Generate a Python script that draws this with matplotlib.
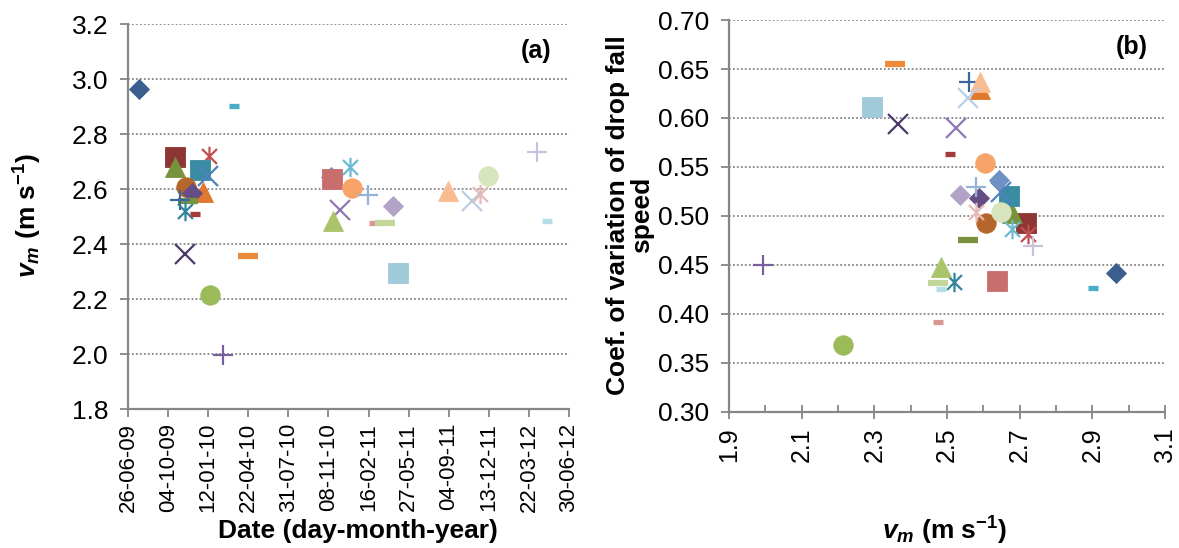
import matplotlib.pyplot as plt
import matplotlib.dates as mdates
from matplotlib.path import Path
from matplotlib.ticker import MultipleLocator, FormatStrFormatter, FixedLocator
from datetime import datetime, timedelta

plt.rcParams['font.family'] = ['Liberation Sans', 'DejaVu Sans']
plt.rcParams['mathtext.fontset'] = 'custom'
plt.rcParams['mathtext.rm'] = 'Liberation Sans'
plt.rcParams['mathtext.it'] = 'Liberation Sans:italic'
plt.rcParams['mathtext.bf'] = 'Liberation Sans:bold'
plt.rcParams['mathtext.bfit'] = 'Liberation Sans:bold:italic'

# one entry per rain event (series)
dates = ['2009-07-23', '2010-03-17', '2009-10-21', '2010-01-14', '2009-10-21',
         '2009-12-23', '2010-01-12', '2009-11-18', '2009-12-30', '2009-12-03',
         '2009-11-23', '2009-11-03', '2009-11-15', '2009-12-10', '2009-11-15',
         '2010-04-21', '2010-01-16', '2010-02-18', '2010-11-14', '2010-11-16',
         '2010-12-31', '2011-01-06', '2011-02-14', '2010-12-08', '2010-11-20',
         '2011-04-19', '2011-03-02', '2011-03-29', '2011-04-30', '2011-09-01',
         '2011-10-31', '2011-11-20', '2011-12-10', '2012-04-12', '2012-05-05']
vm = [2.965, 2.903, 2.717, 2.722, 2.679, 2.670, 2.648, 2.607, 2.590, 2.587,
      2.558, 2.560, 2.519, 2.508, 2.364, 2.358, 2.215, 1.995, 2.644, 2.637,
      2.680, 2.604, 2.579, 2.524, 2.484, 2.537, 2.475, 2.475, 2.293, 2.592,
      2.557, 2.581, 2.648, 2.736, 2.484]
cv = [0.442, 0.427, 0.493, 0.482, 0.503, 0.520, 0.524, 0.493, 0.630, 0.518,
      0.476, 0.637, 0.433, 0.563, 0.594, 0.655, 0.368, 0.450, 0.537, 0.434,
      0.487, 0.554, 0.530, 0.590, 0.448, 0.521, 0.392, 0.432, 0.611, 0.637,
      0.620, 0.504, 0.504, 0.469, 0.425]
vm_ticks = [1.9, 2.1, 2.3, 2.5, 2.7, 2.9, 3.1]

# excel-like star: an X with a vertical bar
star = Path([(-1, -1), (1, 1), (-1, 1), (1, -1), (0, -1.3), (0, 1.3)],
            [Path.MOVETO, Path.LINETO, Path.MOVETO, Path.LINETO, Path.MOVETO, Path.LINETO])

# marker, colour, size per series
styles = [('D', '#3A5F8F', 10), ('_', '#4BACC6', 7), ('s', '#8E3634', 14), ('*', '#C0504D', 14),
          ('^', '#77933C', 14), ('s', '#3A8CA3', 14), ('x', '#4F81BD', 14), ('o', '#B5662A', 14),
          ('^', '#E1782F', 14), ('D', '#654D85', 10), ('_', '#77933C', 14), ('+', '#3B67A0', 14),
          ('*', '#31859C', 14), ('_', '#A33B3A', 7), ('x', '#4B3A67', 14), ('_', '#EC8A3C', 14),
          ('o', '#9BBB59', 14), ('+', '#7A5EA0', 14), ('D', '#6E90C4', 10), ('s', '#C86E6C', 14),
          ('*', '#6CBAD2', 14), ('o', '#F8A468', 14), ('+', '#95B3D7', 14), ('x', '#9079B3', 14),
          ('^', '#A9C46A', 14), ('D', '#B3A2C7', 10), ('_', '#D99694', 7), ('_', '#C3D69B', 14),
          ('s', '#A0C9DA', 14), ('^', '#F9BB90', 14), ('x', '#B9CDE5', 14), ('*', '#E6B9B8', 14),
          ('o', '#D7E4BD', 14), ('+', '#CCC1DA', 14), ('_', '#B7DEE8', 7)]

grey = '#868686'
fig = plt.figure(figsize=(11.79, 5.48), dpi=100)
ax1 = fig.add_axes([0.1086, 0.2536, 0.374, 0.7024])
ax2 = fig.add_axes([0.6183, 0.2482, 0.3698, 0.7153])

def draw(ax, xs, ys):
    for x, y, (m, c, s) in zip(xs, ys, styles):
        if m == '_':
            ax.plot([x], [y], marker='_', ms=s, mew=4.5 if s > 10 else 3.8, color=c,
                    linestyle='none', clip_on=False)
        elif m in ('x', '+', '*'):
            ax.plot([x], [y], marker=star if m == '*' else m, ms=s, mew=1.6, color=c,
                    linestyle='none', clip_on=False)
        else:
            ax.plot([x], [y], marker=m, ms=s, mfc=c, mec=c, mew=0.6, linestyle='none',
                    clip_on=False)

def style_axes(ax):
    for side in ('top', 'right'):
        ax.spines[side].set_visible(False)
    for side in ('left', 'bottom'):
        ax.spines[side].set_color(grey)
        ax.spines[side].set_linewidth(1.6)
    ax.grid(axis='y', color=grey, linestyle=(0, (1, 1.2)), linewidth=1.3)
    ax.set_axisbelow(True)
    ax.tick_params(colors=grey, labelcolor='black', width=1.3, length=6)

# (a) vm over time
d = [datetime.strptime(s, '%Y-%m-%d') for s in dates]
draw(ax1, d, vm)
start = datetime(2009, 6, 26)
ticks = [start + timedelta(days=100 * k) for k in range(12)]
ax1.set_xticks(ticks)
ax1.xaxis.set_major_formatter(mdates.DateFormatter('%d-%m-%y'))
ax1.set_xlim(ticks[0], ticks[-1])
ax1.set_ylim(1.8, 3.2)
ax1.yaxis.set_major_locator(MultipleLocator(0.2))
ax1.yaxis.set_major_formatter(FormatStrFormatter('%.1f'))
style_axes(ax1)
ax1.tick_params(axis='y', labelsize=19, pad=8)
ax1.tick_params(axis='x', labelsize=16, rotation=90, pad=4)
ax1.text(0.96, 0.93, '(a)', transform=ax1.transAxes, fontsize=18, fontweight='bold',
         ha='right', va='center')

# (b) coefficient of variation vs vm
draw(ax2, vm, cv)
ax2.set_xlim(1.9, 3.1)
ax2.set_ylim(0.30, 0.70)
ax2.xaxis.set_major_locator(FixedLocator(vm_ticks))
ax2.xaxis.set_minor_locator(FixedLocator([t + 0.1 for t in vm_ticks[:-1]]))
ax2.xaxis.set_major_formatter(FormatStrFormatter('%.1f'))
ax2.yaxis.set_major_locator(MultipleLocator(0.05))
ax2.yaxis.set_major_formatter(FormatStrFormatter('%.2f'))
style_axes(ax2)
ax2.tick_params(axis='y', labelsize=19, pad=8)
ax2.tick_params(axis='x', which='major', labelsize=18, rotation=90, direction='inout', length=10, pad=6)
ax2.tick_params(axis='x', which='minor', direction='in', length=5, width=1.3, colors=grey)
ax2.text(0.96, 0.93, '(b)', transform=ax2.transAxes, fontsize=18, fontweight='bold',
         ha='right', va='center')

vlabel = r'$\mathbfit{v}_{\mathbfit{m}}$ (m s$^{\mathbf{-1}}$)'
fig.text(28 / 1179, 1 - 215 / 548, vlabel, rotation=90, ha='center', va='center',
         fontsize=19, fontweight='bold')
fig.text(358 / 1179, 1 - 531 / 548, 'Date (day-month-year)', ha='center', va='center',
         fontsize=19, fontweight='bold')
fig.text(630 / 1179, 1 - 215 / 548, 'Coef. of variation of drop fall\nspeed', rotation=90,
         ha='center', va='center', fontsize=19, fontweight='bold', linespacing=1.05)
fig.text(945 / 1179, 1 - 531 / 548, vlabel, ha='center', va='center',
         fontsize=19, fontweight='bold')

fig.savefig('out.png', dpi=100)
